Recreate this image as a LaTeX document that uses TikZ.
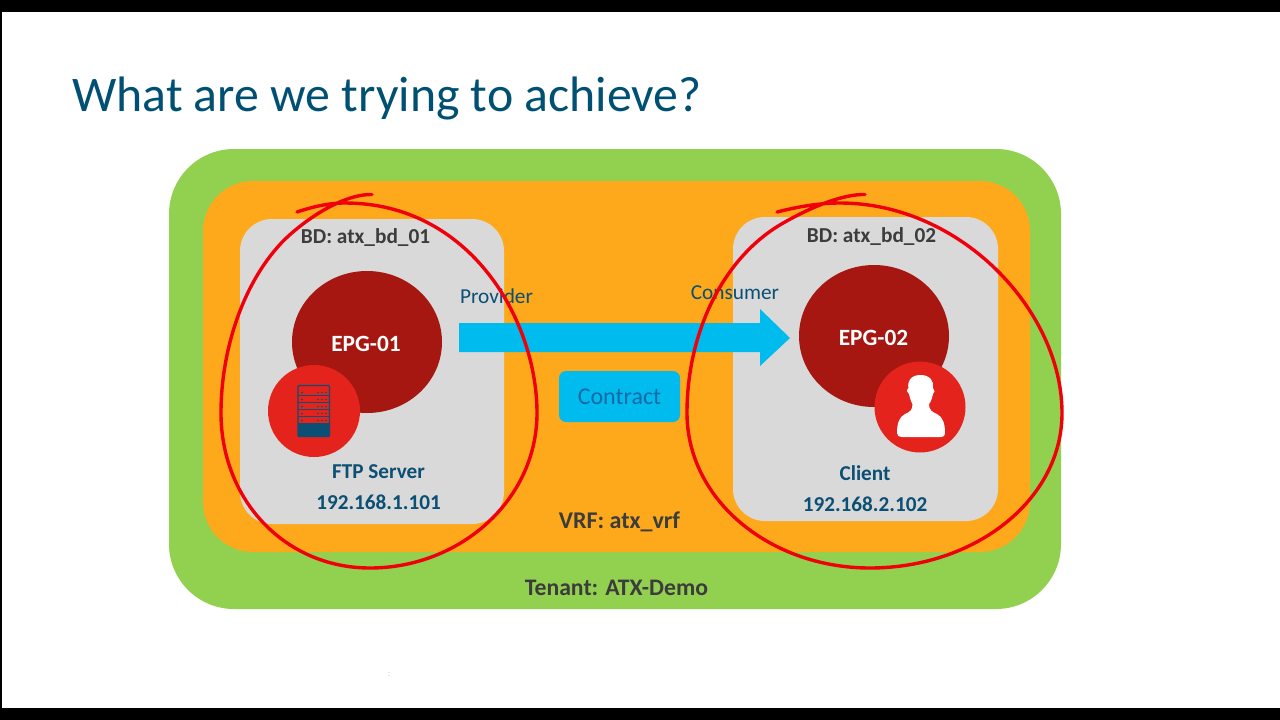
\documentclass[tikz,border=0pt]{standalone}
\usepackage{fontspec}
\setmainfont{Carlito}
\definecolor{cgreen}{HTML}{92D050}
\definecolor{corange}{HTML}{FDA91B}
\definecolor{cgrey}{HTML}{D9D9D9}
\definecolor{cdark}{HTML}{A51710}
\definecolor{cred}{HTML}{E3231C}
\definecolor{cblue}{HTML}{00BBEE}
\definecolor{ctitle}{HTML}{005073}
\definecolor{cnavy}{HTML}{0B4F74}
\definecolor{ccontract}{HTML}{0F69A6}
\definecolor{ctext}{HTML}{3C3C3C}
\definecolor{cink}{HTML}{F0000A}
\tikzset{
  x=1pt,y=-1pt,
  panel/.style={fill=#1,draw=none},
  boldsize/.style={font=\bfseries\fontsize{#1}{#1}\selectfont,inner sep=0pt},
  blobtext/.style={boldsize=23.3,text=white},
  darklabel/.style={boldsize=#1,text=ctext},
  navylabel/.style={boldsize=21.2,text=cnavy},
  rolelabel/.style={font=\fontsize{21.3}{24}\selectfont,text=cnavy,inner sep=0pt},
  inkline/.style={draw=cink,line width=3.4pt,line cap=round,line join=round},
}
\begin{document}
\begin{tikzpicture}
\useasboundingbox (0,0) rectangle (1280,720);
\fill[white] (0,0) rectangle (1280,720);
\fill[black] (0,0) rectangle (1280,12);
\fill[black] (0,708) rectangle (1280,720);
\fill[black] (0,0) rectangle (1.5,720);
\node[anchor=base west,inner sep=0pt,text=ctitle,font=\fontsize{49.8}{56}\selectfont] (title) at (72,111) {What are we trying to achieve?};
\node[inner sep=0pt,text=black!22,font=\fontsize{9}{9}\selectfont] (dots) at (389,675) {:};
\fill[panel=cgreen,rounded corners=65pt] (169,149) rectangle (1061,609);
\fill[panel=corange,rounded corners=50pt] (203,181) rectangle (1030,552);
\fill[panel=cgrey,rounded corners=32pt] (240,219) rectangle (504,524);
\fill[panel=cgrey,rounded corners=32pt] (733,217) rectangle (998,521);
\fill[cdark] (367,342) ellipse [x radius=75,y radius=71];
\fill[cdark] (874,336) ellipse [x radius=75,y radius=71];
\fill[cred] (314,411) circle [radius=46];
\fill[cred] (920,407) circle [radius=45.5];
% server icon
\draw[cnavy,line width=1.2pt,rounded corners=1pt] (298,385.5) rectangle (329.5,436.5);
\fill[cnavy,rounded corners=1pt] (298,424) rectangle (329.5,436.5);
\foreach \r in {392.5,399.5,406.5,413.5,420.5}{
  \draw[cnavy,line width=0.9pt] (298,\r+3) -- (329.5,\r+3);
  \fill[cnavy] (302,\r) circle [radius=1];
  \fill[cnavy] (318,\r) circle [radius=.9];
  \fill[cnavy] (322,\r) circle [radius=.9];
  \fill[cnavy] (326,\r) circle [radius=.9];
}
% person icon
\fill[white] (920.5,375) .. controls (911,375) and (907,381) .. (908.5,388)
  .. controls (906,390) and (907,393) .. (909,394)
  .. controls (910,398) and (911,402) .. (912.5,404)
  .. controls (912.5,410) and (910,412) .. (905,414)
  .. controls (899,417) and (897,424) .. (897,433)
  .. controls (897,436) and (899,437) .. (902,437)
  -- (941,437)
  .. controls (944,437) and (945,436) .. (945,433)
  .. controls (945,424) and (943,417) .. (937,414)
  .. controls (932,412) and (929,410) .. (929,404)
  .. controls (931,402) and (932,398) .. (933,394)
  .. controls (935,393) and (935,390) .. (933,388)
  .. controls (934,381) and (930,375) .. (920.5,375) -- cycle;
% arrow
\fill[cblue] (459,323) -- (760,323) -- (760,309) -- (790,338) -- (760,366) -- (760,352) -- (459,352) -- cycle;
\node[fill=cblue,rounded corners=7pt,minimum width=121pt,minimum height=51pt,inner sep=0pt,text=ccontract,font=\fontsize{24}{26}\selectfont] (contract) at (619.5,396.5) {\raisebox{-1.5pt}{Contract}};
\node[darklabel=21.3] (bd1) at (365.5,238) {BD: atx\_bd\_01};
\node[darklabel=21.3] (bd2) at (871.5,236.5) {BD: atx\_bd\_02};
\node[blobtext] (epg1) at (366,343.5) {EPG-01};
\node[blobtext] (epg2) at (873.5,338) {EPG-02};
\node[navylabel] (ftp) at (378.5,472) {FTP Server};
\node[navylabel] (ip1) at (378.5,502) {192.168.1.101};
\node[navylabel] (cli) at (865,473.5) {Client};
\node[navylabel] (ip2) at (865,504) {192.168.2.102};
\node[rolelabel] (prov) at (496.5,296) {Provider};
\node[rolelabel] (cons) at (735,293) {Consumer};
\node[darklabel=24] (vrf) at (619.5,522) {VRF: atx\_vrf};
\node[darklabel=23.7] (tenant) at (616.5,588) {Tenant: ATX-Demo};
% hand-drawn loops
\draw[inkline] (372,194.5) .. controls (350,194) and (320,209) .. (293,232)
  .. controls (250,268) and (221,340) .. (221,413)
  .. controls (221,500) and (285,568) .. (370,568)
  .. controls (460,568) and (537,500) .. (537,413)
  .. controls (537,320) and (470,203) .. (345,203)
  .. controls (328,203) and (312,207) .. (297,212);
\draw[inkline] (865,194.5) .. controls (845,194) and (815,205) .. (785,222)
  .. controls (725,255) and (687,330) .. (687,413)
  .. controls (687,500) and (770,568) .. (870,568)
  .. controls (975,568) and (1062,500) .. (1062,413)
  .. controls (1062,310) and (960,203) .. (840,203)
  .. controls (818,203) and (797,207) .. (777,212);
\end{tikzpicture}
\end{document}
